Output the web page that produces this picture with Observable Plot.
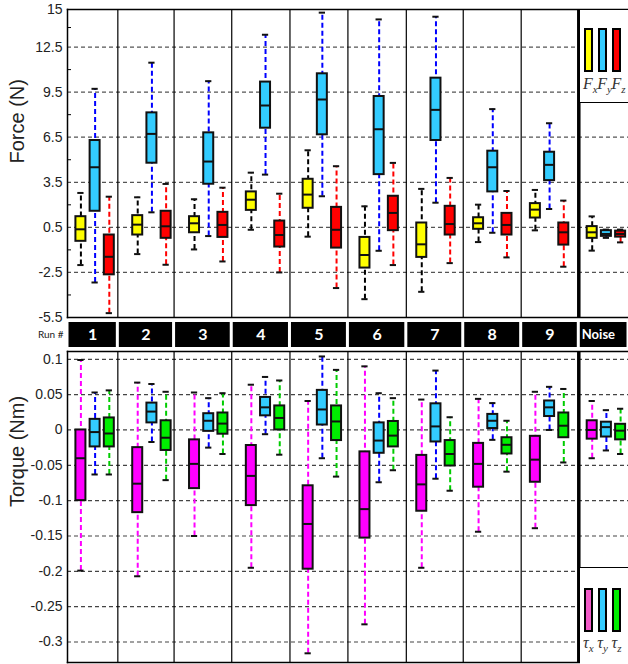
<!DOCTYPE html>
<html>
<head>
<meta charset="utf-8">
<script src="https://cdn.jsdelivr.net/npm/d3@7"></script>
<script src="https://cdn.jsdelivr.net/npm/@observablehq/plot@0.6"></script>
<style>
  body { margin: 0; background: white; }
  #chart { position: relative; width: 628px; height: 664px; background: white; overflow: hidden; }
  #chart svg { display: block; }
  .legend { position: absolute; background: white; box-sizing: border-box; }
  .bar { position: absolute; width: 9px; box-sizing: border-box; border: 2px solid #000; }
  .lab { position: absolute; font-family: "Liberation Serif", serif; font-style: italic; font-size: 16px; color: #333; white-space: nowrap; line-height: 1; }
  .lab sub { font-size: 11px; vertical-align: -4px; }
</style>
</head>
<body>
<div id="chart"></div>
<script>
// ---- data ----
const runs = ["1", "2", "3", "4", "5", "6", "7", "8", "9", "Noise"];
// each entry: [whisker low, Q1, median, Q3, whisker high]
const Fx = [[-2.01,-0.43,0.37,1.21,2.79],[-1.28,-0.01,0.68,1.28,2.5],[-0.97,0.14,0.77,1.21,2.37],[0.34,1.63,2.34,2.86,4.14],[-0.12,1.77,2.68,3.7,5.63],[-4.28,-2.21,-1.34,-0.17,1.9],[-3.79,-1.5,-0.63,0.79,3.06],[-0.48,0.37,0.77,1.14,2.01],[0.3,1.12,1.68,2.08,2.99],[-1.05,-0.23,0.17,0.55,1.23]];
const Fy = [[-3.17,1.57,4.5,6.28,9.72],[1.5,4.77,6.72,8.12,11.46],[-0.08,3.37,4.88,6.79,10.23],[4.01,7.1,8.61,10.17,13.32],[2.57,6.66,9.01,10.72,14.79],[-1.06,4.01,7.03,9.21,14.34],[2.14,6.28,8.32,10.43,14.52],[0.14,2.86,4.5,5.57,8.37],[1.72,3.61,4.66,5.5,7.43],[-0.2,-0.1,0.06,0.28,0.35]];
const Fz = [[-5.21,-2.66,-1.46,-0.01,2.54],[-1.99,-0.23,0.57,1.57,3.39],[-1.77,-0.17,0.66,1.5,3.14],[-2.5,-0.81,-0.01,0.92,2.74],[-3.54,-0.88,0.34,1.83,4.57],[-2.01,0.28,1.46,2.57,4.79],[-1.88,-0.01,0.72,1.9,3.79],[-1.5,-0.01,0.66,1.43,2.92],[-2.12,-0.68,0.17,0.79,2.28],[-0.5,-0.15,0.06,0.25,0.35]];
const Tx = [[-0.199,-0.100,-0.040,0,0.099],[-0.207,-0.117,-0.076,-0.025,0.067],[-0.150,-0.083,-0.048,-0.014,0.053],[-0.195,-0.107,-0.065,-0.022,0.064],[-0.316,-0.197,-0.133,-0.079,0.041],[-0.275,-0.153,-0.112,-0.031,0.090],[-0.195,-0.115,-0.077,-0.036,0.043],[-0.144,-0.081,-0.048,-0.019,0.044],[-0.139,-0.074,-0.042,-0.009,0.054],[-0.040,-0.013,0.0,0.013,0.041]];
const Ty = [[-0.063,-0.024,-0.003,0.015,0.053],[-0.017,0.010,0.026,0.038,0.065],[-0.025,-0.002,0.013,0.023,0.045],[-0.006,0.020,0.032,0.046,0.075],[-0.040,0.007,0.029,0.056,0.104],[-0.074,-0.033,-0.015,0.010,0.052],[-0.069,-0.017,0.005,0.037,0.084],[-0.014,0.002,0.013,0.022,0.038],[0.000,0.019,0.032,0.041,0.061],[-0.029,-0.010,0.004,0.011,0.028]];
const Tz = [[-0.063,-0.024,-0.005,0.017,0.056],[-0.071,-0.029,-0.011,0.013,0.054],[-0.034,-0.006,0.009,0.024,0.052],[-0.035,0.000,0.017,0.034,0.070],[-0.066,-0.015,0.012,0.034,0.085],[-0.057,-0.024,-0.008,0.012,0.045],[-0.086,-0.051,-0.034,-0.015,0.018],[-0.059,-0.034,-0.021,-0.011,0.013],[-0.046,-0.011,0.006,0.024,0.058],[-0.034,-0.014,-0.001,0.008,0.030]];
const forceTicks = [15, 12.5, 9.5, 6.5, 3.5, 0.5, -2.5, -5.5];
const forceGrid = [12.5, 9.5, 6.5, 3.5, 0.5, -2.5];
const forceMinor = [13.8, 11, 8, 5, 2, -1, -4];
const torqueTicks = [0.1, 0.05, 0, -0.05, -0.1, -0.15, -0.2, -0.25, -0.3];
const separators = [1.4, 2.39, 3.405, 4.43, 5.45, 6.478, 7.48, 8.5, 9.514];

// ---- layout constants ----
const W = 628, ML = 67;
const xDomain = [0.514, 10.389];
const HW = 0.088, CAP = 0.055;
const font = "'Liberation Sans', Arial, sans-serif";

function boxMarks(data, offset, fill, wcolor) {
  const rows = data.map((d, i) => ({pos: i + 1 + offset, lo: d[0], q1: d[1], med: d[2], q3: d[3], hi: d[4]}));
  const xs = {x1: d => d.pos - HW, x2: d => d.pos + HW};
  const cs = {x1: d => d.pos - CAP, x2: d => d.pos + CAP};
  return [
    Plot.ruleX(rows, {x: "pos", y1: "lo", y2: "hi", stroke: wcolor, strokeWidth: 2, strokeDasharray: "5,3"}),
    Plot.ruleY(rows, {y: "lo", ...cs, stroke: "#111", strokeWidth: 2}),
    Plot.ruleY(rows, {y: "hi", ...cs, stroke: "#111", strokeWidth: 2}),
    Plot.rect(rows, {...xs, y1: "q1", y2: "q3", fill, stroke: "#111", strokeWidth: 2}),
    Plot.ruleY(rows, {y: "med", ...xs, stroke: "#111", strokeWidth: 2})
  ];
}

function frameMarks() {
  return [
    Plot.ruleX(separators.slice(0, -1), {stroke: "#000", strokeWidth: 1.2}),
    Plot.ruleX(separators.slice(-1), {stroke: "#000", strokeWidth: 3.5}),
    Plot.frame({anchor: "top", stroke: "#000", strokeWidth: 1.5}),
    Plot.frame({anchor: "bottom", stroke: "#000", strokeWidth: 1.5}),
    Plot.frame({anchor: "left", stroke: "#000", strokeWidth: 1.5})
  ];
}

const forcePlot = Plot.plot({
  width: W, height: 320, marginLeft: ML, marginRight: 0, marginTop: 9, marginBottom: 3,
  style: {fontFamily: font, background: "white", overflow: "visible"},
  x: {domain: xDomain, axis: null},
  y: {domain: [-5.5, 15], axis: null},
  marks: [
    Plot.ruleY(forceGrid, {stroke: "#555", strokeDasharray: "4,3", strokeWidth: 1.2}),
    ...boxMarks(Fx, -0.25, "#ffff00", "#000"),
    ...boxMarks(Fy, 0, "#33ccff", "#0000ff"),
    ...boxMarks(Fz, 0.25, "#ff0000", "#ff0000"),
    ...frameMarks(),
    Plot.axisY(forceTicks, {anchor: "left", tickSize: 0, tickPadding: 5, fontSize: 14, fill: "#222", tickFormat: d => String(d)}),
    Plot.axisY(forceMinor, {anchor: "left", tickSize: -4, tickFormat: () => ""}),
    Plot.text(["Force (N)"], {frameAnchor: "left", dx: -50, rotate: -90, fontSize: 20, fill: "#222"})
  ]
});

const columns = runs.map((r, i) => ({label: r, a: i === 0 ? xDomain[0] : separators[i - 1], b: i < separators.length ? separators[i] : xDomain[1]}));
const runBar = Plot.plot({
  width: W, height: 29, marginLeft: ML, marginRight: 0, marginTop: 0, marginBottom: 0,
  style: {fontFamily: "Lato, 'Liberation Sans', sans-serif", background: "white", overflow: "visible"},
  x: {domain: xDomain, axis: null},
  marks: [
    Plot.rect(columns, {x1: "a", x2: "b", fill: "#000", insetLeft: 1.5, insetRight: 1.5, insetTop: 2, insetBottom: 2}),
    Plot.text(columns.filter(d => d.label !== "Noise"), {x: d => (d.a + d.b) / 2, text: "label", fill: "white", fontWeight: "bold", fontSize: 16}),
    Plot.text(columns.filter(d => d.label === "Noise"), {x: "a", text: "label", fill: "white", fontWeight: "bold", fontSize: 13, textAnchor: "start", dx: 3}),
    Plot.text(["Run #"], {frameAnchor: "left", dx: -4, textAnchor: "end", fontSize: 10, fill: "#222"})
  ]
});

const torquePlot = Plot.plot({
  width: W, height: 315, marginLeft: ML, marginRight: 0, marginTop: 2, marginBottom: 2,
  style: {fontFamily: font, background: "white", overflow: "visible"},
  x: {domain: xDomain, axis: null},
  y: {domain: [-0.329, 0.111], axis: null},
  marks: [
    Plot.ruleY(torqueTicks, {stroke: "#444", strokeDasharray: "4,3", strokeWidth: 1.2}),
    ...boxMarks(Tx, -0.25, "#ff00ff", "#ff00ff"),
    ...boxMarks(Ty, 0, "#33ccff", "#0000ff"),
    ...boxMarks(Tz, 0.25, "#00ee00", "#00cc00"),
    ...frameMarks(),
    Plot.axisY(torqueTicks, {anchor: "left", tickSize: 0, tickPadding: 5, fontSize: 14, fill: "#222", tickFormat: d => String(d)}),
    Plot.text(["Torque (Nm)"], {frameAnchor: "left", dx: -50, rotate: -90, fontSize: 20, fill: "#222"})
  ]
});

const chart = document.getElementById("chart");
chart.append(forcePlot, runBar, torquePlot);

// ---- legends (overlay boxes inside the Noise column) ----
function legend(topPx, heightPx, borderSide, items, barTop, labTop, sym) {
  const box = document.createElement("div");
  box.className = "legend";
  box.style.left = "580px";
  box.style.top = topPx + "px";
  box.style.width = "48px";
  box.style.height = heightPx + "px";
  box.style[borderSide] = "1.5px solid #000";
  chart.append(box);
  items.forEach((it, i) => {
    const b = document.createElement("div");
    b.className = "bar";
    b.style.left = (584 + i * 14.2 - 580) + "px";
    b.style.top = (barTop - topPx) + "px";
    b.style.height = "44px";
    b.style.background = it.color;
    box.append(b);
    const l = document.createElement("div");
    l.className = "lab";
    l.style.left = (583 + i * 14.2 - 580) + "px";
    l.style.top = (labTop - topPx) + "px";
    l.innerHTML = sym + "<sub>" + it.sub + "</sub>";
    box.append(l);
  });
}
legend(10, 93, "borderBottom", [{color: "#ffff00", sub: "x"}, {color: "#33ccff", sub: "y"}, {color: "#ff0000", sub: "z"}], 28, 76, "F");
legend(567, 97, "borderTop", [{color: "#f25ac8", sub: "x"}, {color: "#33ccff", sub: "y"}, {color: "#00ee00", sub: "z"}], 587, 634, "τ");
</script>
</body>
</html>
